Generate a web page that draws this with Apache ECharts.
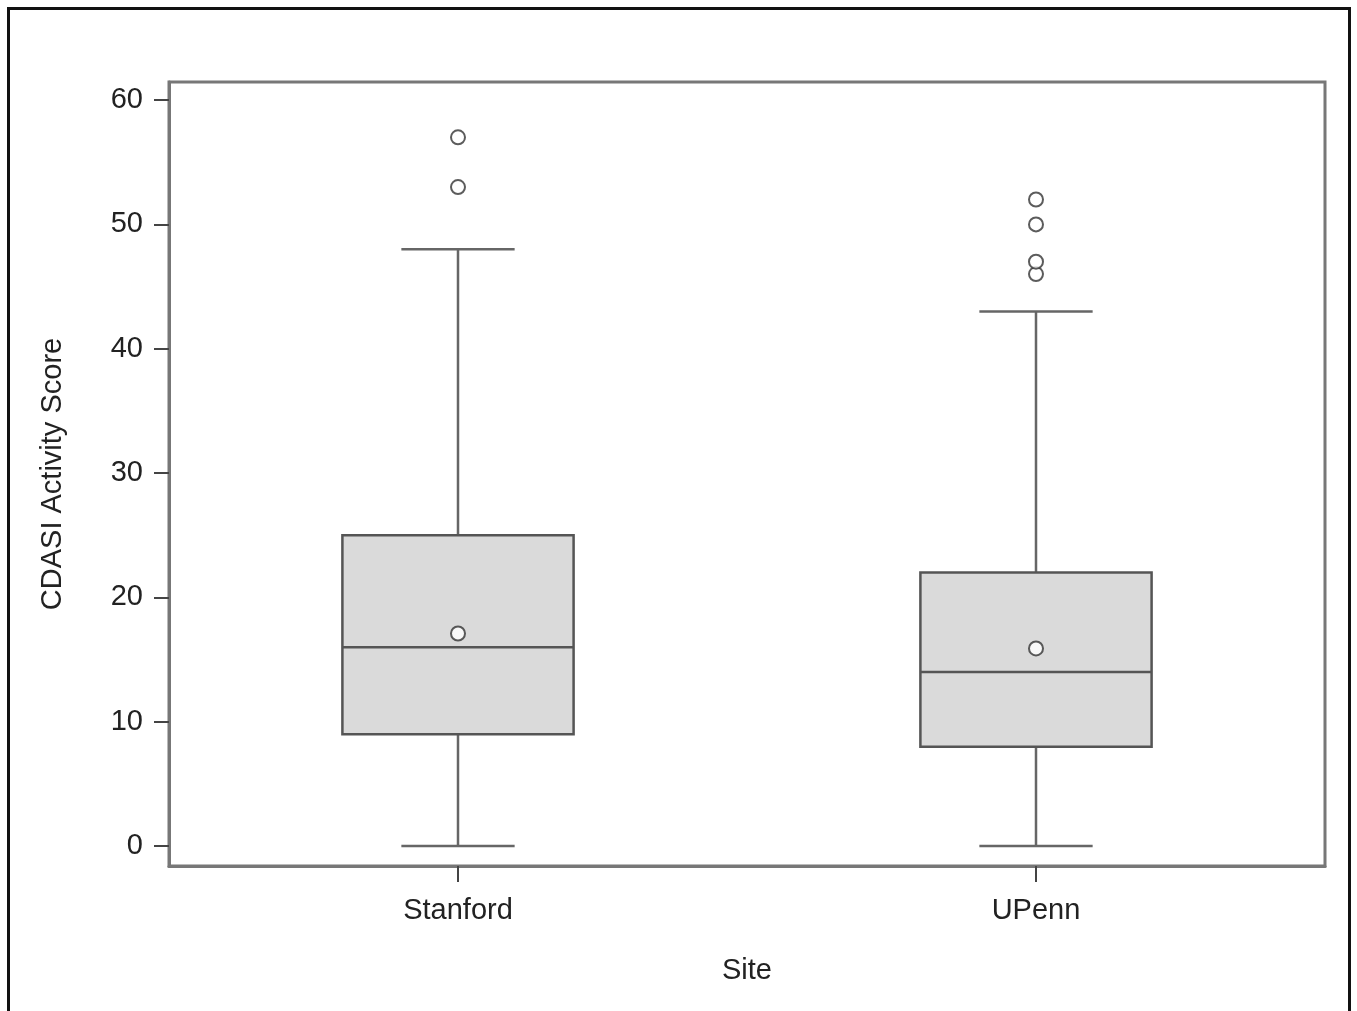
<!DOCTYPE html>
<html>
<head>
<meta charset="utf-8">
<script src="https://cdn.jsdelivr.net/npm/echarts@6/dist/echarts.min.js"></script>
<style>
  html, body { margin: 0; padding: 0; background: #fff; }
  #chart { width: 1357px; height: 1011px; }
</style>
</head>
<body>
<div id="chart"></div>
<script>
// site categories
const categories = ['Stanford', 'UPenn']
// box plot statistics per site
const whiskerLow = [0, 0]
const q1 = [9, 8]
const median = [16, 14]
const q3 = [25, 22]
const whiskerHigh = [48, 43]
const means = [17.1, 15.9]
// outliers per site
const stanfordOutliers = [53, 57]
const upennOutliers = [46, 47, 50, 52]
// y tick labels
const yTicks = [0, 10, 20, 30, 40, 50, 60]

const font = '"Liberation Sans", Arial, sans-serif'
const textColor = '#222'

const chart = echarts.init(document.getElementById('chart'))

const boxData = categories.map((c, i) => [i, whiskerLow[i], q1[i], median[i], q3[i], whiskerHigh[i]])
const meanData = means.map((m, i) => [i, m])
const outlierData = stanfordOutliers.map(v => [0, v]).concat(upennOutliers.map(v => [1, v]))

function renderBox(params, api) {
  const x = api.value(0)
  const low = api.coord([x, api.value(1)])
  const p1 = api.coord([x, api.value(2)])
  const med = api.coord([x, api.value(3)])
  const p3 = api.coord([x, api.value(4)])
  const high = api.coord([x, api.value(5)])
  const band = api.size([1, 0])[0]
  const bw = band * 0.4
  const cw = band * 0.196
  const cx = low[0]
  const lineStyle = { stroke: '#666', lineWidth: 2.5 }
  return {
    type: 'group',
    children: [
      { type: 'line', shape: { x1: cx, y1: low[1], x2: cx, y2: p1[1] }, style: lineStyle },
      { type: 'line', shape: { x1: cx, y1: p3[1], x2: cx, y2: high[1] }, style: lineStyle },
      { type: 'line', shape: { x1: cx - cw / 2, y1: low[1], x2: cx + cw / 2, y2: low[1] }, style: lineStyle },
      { type: 'line', shape: { x1: cx - cw / 2, y1: high[1], x2: cx + cw / 2, y2: high[1] }, style: lineStyle },
      {
        type: 'rect',
        shape: { x: cx - bw / 2, y: p3[1], width: bw, height: p1[1] - p3[1] },
        style: { fill: '#dadada', stroke: '#555', lineWidth: 2.5 }
      },
      { type: 'line', shape: { x1: cx - bw / 2, y1: med[1], x2: cx + bw / 2, y2: med[1] }, style: { stroke: '#555', lineWidth: 2.5 } }
    ]
  }
}

const option = {
  backgroundColor: '#fff',
  animation: false,
  grid: {
    left: 169,
    top: 82,
    right: 32,
    bottom: 145,
    show: true,
    borderColor: '#777',
    borderWidth: 3
  },
  xAxis: {
    type: 'category',
    data: categories,
    boundaryGap: true,
    name: 'Site',
    nameLocation: 'middle',
    nameGap: 90,
    nameTextStyle: { fontFamily: font, fontSize: 29, color: textColor },
    axisLine: { show: true, onZero: false, lineStyle: { color: '#777', width: 3 } },
    axisTick: { show: true, alignWithLabel: true, length: 16, lineStyle: { color: '#444', width: 2 } },
    axisLabel: { fontFamily: font, fontSize: 29, color: textColor, margin: 30 }
  },
  yAxis: {
    type: 'value',
    min: -1.6,
    max: 61.45,
    name: 'CDASI Activity Score',
    nameLocation: 'middle',
    nameGap: 102,
    nameRotate: 90,
    nameTextStyle: { fontFamily: font, fontSize: 29, color: textColor },
    splitLine: { show: false },
    axisLine: { show: true, onZero: false, lineStyle: { color: '#777', width: 3 } },
    axisTick: { show: true, customValues: yTicks, length: 15, lineStyle: { color: '#444', width: 2 } },
    axisLabel: { customValues: yTicks, fontFamily: font, fontSize: 29, color: textColor, margin: 26 }
  },
  graphic: [
    {
      type: 'rect',
      left: 6,
      top: 6,
      shape: { width: 1341, height: 1010 },
      style: { fill: 'none', stroke: '#111', lineWidth: 3 },
      z: 100
    }
  ],
  series: [
    {
      name: 'box',
      type: 'custom',
      renderItem: renderBox,
      encode: { x: 0, y: [1, 2, 3, 4, 5] },
      data: boxData,
      z: 2
    },
    {
      name: 'mean',
      type: 'scatter',
      data: meanData,
      symbol: 'circle',
      symbolSize: 14,
      itemStyle: { color: '#fff', borderColor: '#333', borderWidth: 2 },
      z: 5
    },
    {
      name: 'outliers',
      type: 'scatter',
      data: outlierData,
      symbol: 'circle',
      symbolSize: 14,
      itemStyle: { color: '#fff', borderColor: '#333', borderWidth: 2 },
      z: 5
    }
  ]
}

chart.setOption(option)
</script>
</body>
</html>
